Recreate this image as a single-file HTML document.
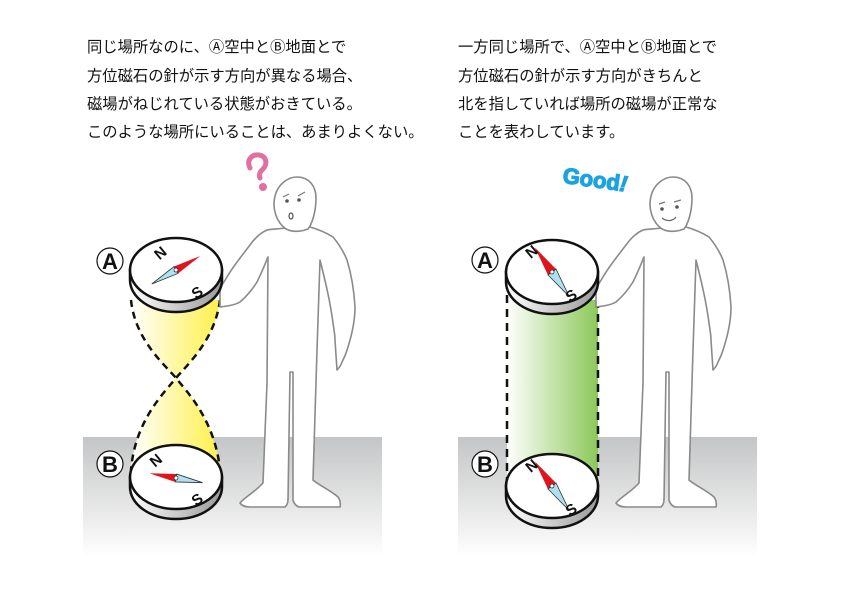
<!DOCTYPE html>
<html><head><meta charset="utf-8"><style>
body{margin:0;background:#fff;}
svg{display:block}
.t{font-family:"Liberation Sans","Noto Sans CJK JP",sans-serif;font-size:15.3px;fill:#111;}
</style></head><body>
<svg width="842" height="595" viewBox="0 0 842 595" xmlns="http://www.w3.org/2000/svg">
<defs>
<linearGradient id="floor" x1="0" y1="0" x2="0" y2="1"><stop offset="0" stop-color="#c4c5c6"/><stop offset="1" stop-color="#ffffff"/></linearGradient>
<linearGradient id="yel" x1="0" y1="0" x2="1" y2="0"><stop offset="0" stop-color="#fff"/><stop offset="1" stop-color="#fff04a"/></linearGradient>
<linearGradient id="grn" x1="0" y1="0" x2="1" y2="0"><stop offset="0" stop-color="#fff"/><stop offset="1" stop-color="#8cc85a"/></linearGradient>
<linearGradient id="side" x1="0" y1="0" x2="1" y2="0"><stop offset="0" stop-color="#fff"/><stop offset="1" stop-color="#9a9a9a"/></linearGradient>
<g id="person" fill="#fff" stroke="#8a8a8a" stroke-width="1.6" stroke-linejoin="round">
<path d="M285 228 C278 229 272 229 267 230 C260 233 255 238 250 245 C240 258 232 268 227 277 C224 282 222 285 220 288 L220 307 C228 306 235 305 240 302 C247 296 252 290 257 282 C262 272 265 264 268 257 L267 383 L263 483 C255 492 245 497 240 503 C242 506 246 507 250 507 L285 507 C287 505 288 503 288 500 L290 372 L293 372 L293 500 C294 504 297 507 300 507 L340 507 C341 503 340 500 338 497 C330 490 320 486 313 480 L317 350 L320 260 C325 280 330 300 333 323 C334 330 335 335 335 340 L337 370 C339 368 341 365 342 362 C344 358 346 354 347 350 C352 335 355 320 355 307 C354 290 351 273 347 260 C343 250 338 243 333 237 C325 232 317 229 310 227 Z"/>
<path d="M286 229 C276 222 272 208 275 196 C278 184 288 177 297 177 C309 177 316 186 316 198 C316 212 312 224 308 229 C300 232 292 232 286 229 Z"/>
</g>
<g id="compass">
<path d="M-46 0 L-46 10 A46 32 0 0 0 46 10 L46 0 Z" fill="url(#side)" stroke="#111" stroke-width="2.5"/>
<ellipse cx="0" cy="0" rx="46" ry="32" fill="#fff" stroke="#111" stroke-width="2.5"/>
</g>
</defs>
<rect x="83" y="437" width="299" height="120" fill="url(#floor)"/>
<rect x="458" y="437" width="299" height="120" fill="url(#floor)"/>
<text class="t" x="87" y="52">同じ場所なのに、Ⓐ空中とⒷ地面とで</text>
<text class="t" x="87" y="81">方位磁石の針が示す方向が異なる場合、</text>
<text class="t" x="87" y="109">磁場がねじれている状態がおきている。</text>
<text class="t" x="87" y="137">このような場所にいることは、あまりよくない。</text>
<text class="t" x="458" y="52">一方同じ場所で、Ⓐ空中とⒷ地面とで</text>
<text class="t" x="458" y="81">方位磁石の針が示す方向がきちんと</text>
<text class="t" x="458" y="109">北を指していれば場所の磁場が正常な</text>
<text class="t" x="458" y="137">ことを表わしています。</text>

<path d="M131 300 C135 340 165 365 176 378 C187 365 215 340 220 300 Z" fill="url(#yel)"/>
<path d="M131 470 C135 420 165 392 176 378 C187 392 215 420 220 470 Z" fill="url(#yel)"/>
<path d="M131 300 C135 340 165 365 176 378 C187 392 215 420 220 470 M220 300 C215 340 187 365 176 378 C165 392 135 420 131 470" fill="none" stroke="#111" stroke-width="2.5" stroke-dasharray="7,5"/>
<use href="#person"/>
<path d="M250 168 C246 160 252 154 259 155 C267 156 268 165 262 170 C259 173 259 176 260 178" fill="none" stroke="#e070a0" stroke-width="5" stroke-linecap="round"/>
<circle cx="263" cy="187" r="4" fill="#e070a0"/>
<path d="M283 197 l6 -3 M298 196 l7 -4" stroke="#777" stroke-width="1.2"/>
<circle cx="287" cy="201" r="1.8" fill="#555"/><circle cx="299" cy="200" r="1.8" fill="#555"/>
<ellipse cx="291" cy="216" rx="2" ry="3" fill="none" stroke="#555" stroke-width="1.2"/>
<use href="#compass" x="176" y="270"/>
<use href="#compass" x="176" y="477"/>
<g transform="translate(176,270) rotate(-30)"><path d="M0 -4 L28 0 L0 4 Z" fill="#e0141c"/><path d="M0 -4 L-28 0 L0 4 Z" fill="#aee0f0" stroke="#333" stroke-width="0.8"/><circle r="2" fill="#fff" stroke="#333" stroke-width="0.8"/></g>
<text x="155" y="262" font-family="Liberation Sans,sans-serif" font-weight="bold" font-size="15" transform="rotate(-40 155 255)" fill="#111">N</text>
<text x="192" y="297" font-family="Liberation Sans,sans-serif" font-weight="bold" font-size="15" transform="rotate(-35 198 292)" fill="#111">S</text>
<g transform="translate(176,478) rotate(10)"><path d="M0 -4 L-27 0 L0 4 Z" fill="#e0141c"/><path d="M0 -4 L27 0 L0 4 Z" fill="#aee0f0" stroke="#333" stroke-width="0.8"/><circle r="2" fill="#fff" stroke="#333" stroke-width="0.8"/></g>
<text x="150" y="466" font-family="Liberation Sans,sans-serif" font-weight="bold" font-size="15" transform="rotate(-40 155 460)" fill="#111">N</text>
<text x="192" y="504" font-family="Liberation Sans,sans-serif" font-weight="bold" font-size="15" transform="rotate(-35 198 499)" fill="#111">S</text>
<circle cx="110" cy="261" r="13" fill="#fff" stroke="#111" stroke-width="1.2"/><text x="110" y="269" text-anchor="middle" font-family="Liberation Sans,sans-serif" font-weight="bold" font-size="22" fill="#111">A</text>
<circle cx="110" cy="464" r="13" fill="#fff" stroke="#111" stroke-width="1.2"/><text x="110" y="472" text-anchor="middle" font-family="Liberation Sans,sans-serif" font-weight="bold" font-size="22" fill="#111">B</text>

<rect x="507" y="300" width="91" height="180" fill="url(#grn)"/>
<path d="M507 295 L507 480 M598 300 L598 480" stroke="#111" stroke-width="2.5" stroke-dasharray="8,6"/>
<use href="#person" x="376"/>
<path d="M659 204 l6 -2 M674 202 l7 -2" stroke="#777" stroke-width="1.2"/>
<circle cx="662" cy="209" r="1.8" fill="#555"/><circle cx="677" cy="207" r="1.8" fill="#555"/>
<path d="M662 218 C667 222 673 221 676 217" fill="none" stroke="#666" stroke-width="1.2"/>
<text x="562" y="188" font-family="Liberation Sans,sans-serif" font-weight="bold" font-size="22" fill="#1aa3e0" stroke="#1aa3e0" stroke-width="1.2" transform="rotate(8 600 185)">Good<tspan font-style="italic">!</tspan></text>
<use href="#compass" x="552" y="272"/>
<use href="#compass" x="552" y="486"/>
<g transform="translate(552,272) rotate(55)"><path d="M0 -5 L-30 0 L0 5 Z" fill="#e0141c"/><path d="M0 -5 L30 0 L0 5 Z" fill="#aee0f0" stroke="#333" stroke-width="0.8"/><circle r="2" fill="#fff" stroke="#333" stroke-width="0.8"/></g>
<text x="526" y="258" font-family="Liberation Sans,sans-serif" font-weight="bold" font-size="15" transform="rotate(-40 530 252)" fill="#111">N</text>
<text x="566" y="300" font-family="Liberation Sans,sans-serif" font-weight="bold" font-size="15" transform="rotate(-35 572 295)" fill="#111">S</text>
<g transform="translate(552,486) rotate(55)"><path d="M0 -5 L-30 0 L0 5 Z" fill="#e0141c"/><path d="M0 -5 L30 0 L0 5 Z" fill="#aee0f0" stroke="#333" stroke-width="0.8"/><circle r="2" fill="#fff" stroke="#333" stroke-width="0.8"/></g>
<text x="526" y="472" font-family="Liberation Sans,sans-serif" font-weight="bold" font-size="15" transform="rotate(-40 530 466)" fill="#111">N</text>
<text x="566" y="514" font-family="Liberation Sans,sans-serif" font-weight="bold" font-size="15" transform="rotate(-35 572 509)" fill="#111">S</text>
<circle cx="485" cy="260" r="13" fill="#fff" stroke="#111" stroke-width="1.2"/><text x="485" y="268" text-anchor="middle" font-family="Liberation Sans,sans-serif" font-weight="bold" font-size="22" fill="#111">A</text>
<circle cx="485" cy="464" r="13" fill="#fff" stroke="#111" stroke-width="1.2"/><text x="485" y="472" text-anchor="middle" font-family="Liberation Sans,sans-serif" font-weight="bold" font-size="22" fill="#111">B</text>
</svg>
</body></html>
